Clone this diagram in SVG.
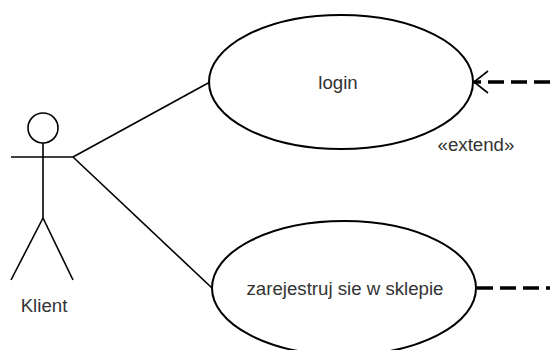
<svg xmlns="http://www.w3.org/2000/svg" width="550" height="350" viewBox="0 0 550 350">
<defs>
<style>
.uc{fill:#fff;stroke:#000;stroke-width:2}
.ln{fill:none;stroke:#000;stroke-width:1.6}
.dash{fill:none;stroke:#000;stroke-width:3.5;stroke-dasharray:16 7}
.t{font-family:"Liberation Sans",Arial,sans-serif;font-size:18.67px;fill:#333;text-anchor:middle}
</style>
<marker id="open" viewBox="0 0 16 24" refX="15" refY="12" markerWidth="16" markerHeight="24" markerUnits="userSpaceOnUse" orient="auto">
<path d="M1,1 L15,12 L1,23" fill="none" stroke="#000" stroke-width="1.6"/>
</marker>
</defs>
<rect width="550" height="350" fill="#fff"/>
<g id="actor-klient">
<circle class="ln" cx="43" cy="128" r="15"/>
<line class="ln" x1="43" y1="143" x2="43" y2="218"/>
<line class="ln" x1="11" y1="157" x2="73" y2="157"/>
<line class="ln" x1="43" y1="218" x2="11" y2="280"/>
<line class="ln" x1="43" y1="218" x2="73" y2="280"/>
<text class="t" x="44" y="312">Klient</text>
</g>
<g id="uc-login">
<ellipse class="uc" cx="341" cy="82" rx="132" ry="67"/>
<text class="t" x="338" y="89">login</text>
</g>
<g id="uc-zarejestruj">
<ellipse class="uc" cx="344" cy="288" rx="132" ry="67"/>
<text class="t" x="345" y="295">zarejestruj sie w sklepie</text>
</g>
<g id="connectors">
<line class="ln" x1="73" y1="157" x2="210" y2="82"/>
<line class="ln" x1="73" y1="157" x2="212" y2="288"/>
<line class="dash" x1="550" y1="82" x2="474" y2="82" marker-end="url(#open)"/>
<line class="dash" x1="477" y1="288" x2="550" y2="288"/>
<text class="t" x="476" y="151">«extend»</text>
</g>
</svg>
